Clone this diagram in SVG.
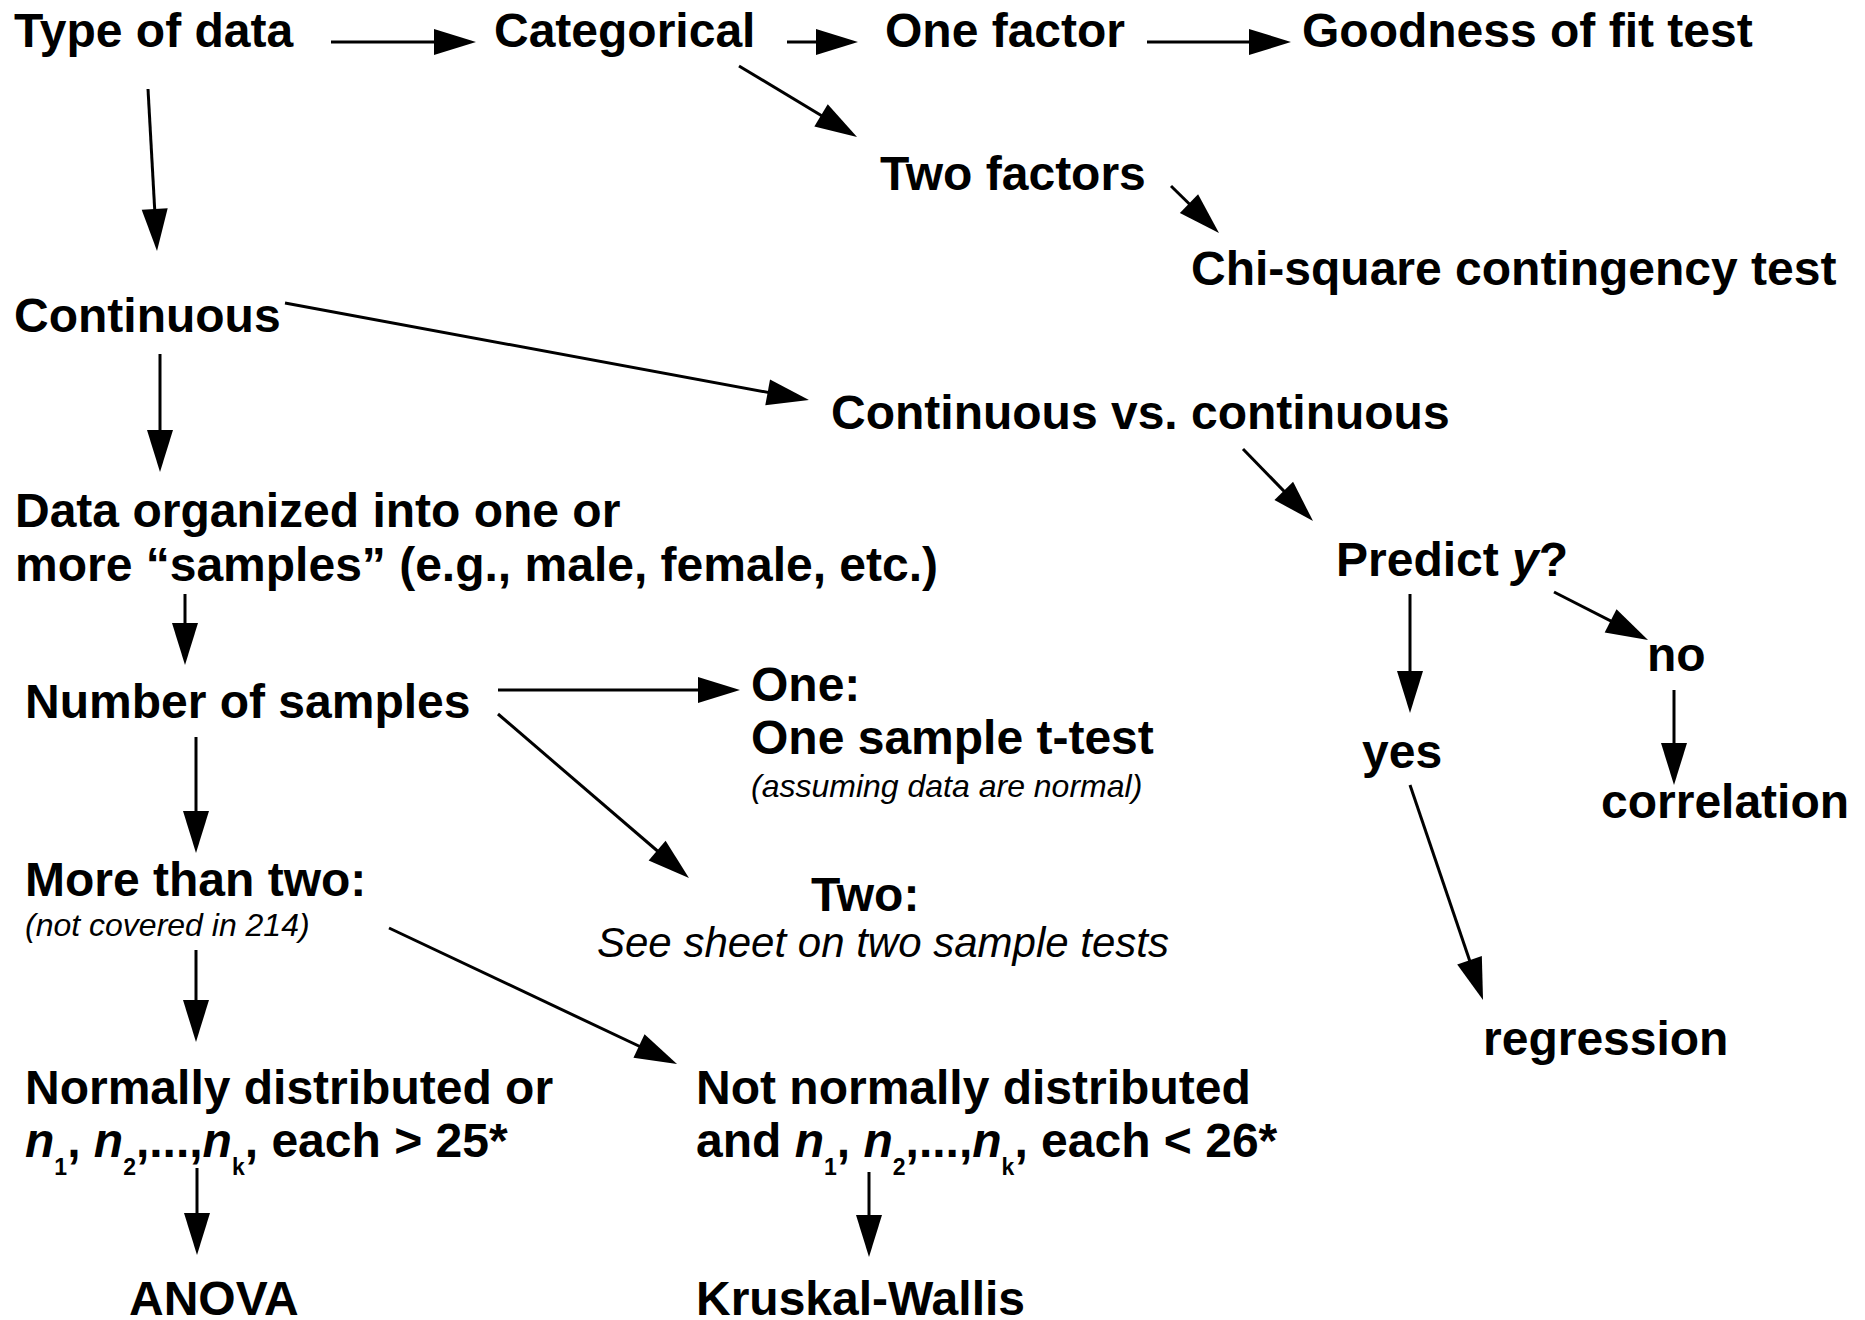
<svg xmlns="http://www.w3.org/2000/svg" width="1865" height="1320" viewBox="0 0 1865 1320">
<style>
text{font-family:"Liberation Sans",Arial,sans-serif;fill:#000}
.b{font-size:48px;font-weight:bold}
.it{font-style:italic}
.s{font-size:32px;font-style:italic}
.m{font-size:42px;font-style:italic}
.sub{font-size:23px;font-weight:bold}
.c line{stroke:#000;stroke-width:3;marker-end:url(#ah)}
</style>
<defs>
<marker id="ah" markerUnits="userSpaceOnUse" markerWidth="44" markerHeight="28" refX="22" refY="13" orient="auto" overflow="visible">
<path d="M0,0 L42,13 L0,26 Z" fill="#000"/>
</marker>
</defs>
<rect width="1865" height="1320" fill="#fff"/>
<g class="c" id="connectors">
<line x1="331" y1="42" x2="456" y2="42"/>
<line x1="787" y1="42" x2="838" y2="42"/>
<line x1="1147" y1="42" x2="1271" y2="42"/>
<line x1="739" y1="66" x2="839.9" y2="126.7"/>
<line x1="1171" y1="186" x2="1204.7" y2="219"/>
<line x1="148" y1="89" x2="155.9" y2="231"/>
<line x1="285" y1="303" x2="789.3" y2="396.4"/>
<line x1="160" y1="354" x2="160" y2="452"/>
<line x1="185" y1="594" x2="185" y2="645"/>
<line x1="498" y1="690" x2="720" y2="690"/>
<line x1="498" y1="714" x2="673.8" y2="865"/>
<line x1="196" y1="737" x2="196" y2="833"/>
<line x1="196" y1="950" x2="196" y2="1022"/>
<line x1="389" y1="928" x2="658.9" y2="1055.5"/>
<line x1="197" y1="1168" x2="197" y2="1235"/>
<line x1="869" y1="1172" x2="869" y2="1237"/>
<line x1="1243" y1="449" x2="1299.1" y2="506.7"/>
<line x1="1410" y1="594" x2="1410" y2="693"/>
<line x1="1554" y1="592" x2="1630.2" y2="630.9"/>
<line x1="1674" y1="690" x2="1674" y2="765"/>
<line x1="1410" y1="785" x2="1476.6" y2="981.1"/>
</g>
<g id="type-of-data"><text class="b" x="14" y="47">Type of data</text></g>
<g id="categorical"><text class="b" x="494" y="47">Categorical</text></g>
<g id="one-factor"><text class="b" x="885" y="47">One factor</text></g>
<g id="goodness"><text class="b" x="1302" y="47">Goodness of fit test</text></g>
<g id="two-factors"><text class="b" x="880" y="190">Two factors</text></g>
<g id="chi-square"><text class="b" x="1191" y="285">Chi-square contingency test</text></g>
<g id="continuous"><text class="b" x="14" y="332">Continuous</text></g>
<g id="cont-vs-cont"><text class="b" x="831" y="429">Continuous vs. continuous</text></g>
<g id="data-organized">
<text class="b" x="15" y="527">Data organized into one or</text>
<text class="b" x="15" y="581">more “samples” (e.g., male, female, etc.)</text>
</g>
<g id="number-of-samples"><text class="b" x="25" y="718">Number of samples</text></g>
<g id="one">
<text class="b" x="751" y="701">One:</text>
<text class="b" x="751" y="754">One sample t-test</text>
<text class="s" x="751" y="797">(assuming data are normal)</text>
</g>
<g id="two">
<text class="b" x="811" y="911">Two:</text>
<text class="m" x="597" y="957">See sheet on two sample tests</text>
</g>
<g id="more-than-two">
<text class="b" x="25" y="896">More than two:</text>
<text class="s" x="25" y="936">(not covered in 214)</text>
</g>
<g id="normally">
<text class="b" x="25" y="1104">Normally distributed or</text>
<text class="b" x="25" y="1157"><tspan class="it">n</tspan><tspan class="sub" dy="18">1</tspan><tspan dy="-18">, </tspan><tspan class="it">n</tspan><tspan class="sub" dy="18">2</tspan><tspan dy="-18">,...,</tspan><tspan class="it">n</tspan><tspan class="sub" dy="18">k</tspan><tspan dy="-18">, each &gt; 25*</tspan></text>
</g>
<g id="not-normally">
<text class="b" x="696" y="1104">Not normally distributed</text>
<text class="b" x="696" y="1157">and <tspan class="it">n</tspan><tspan class="sub" dy="18">1</tspan><tspan dy="-18">, </tspan><tspan class="it">n</tspan><tspan class="sub" dy="18">2</tspan><tspan dy="-18">,...,</tspan><tspan class="it">n</tspan><tspan class="sub" dy="18">k</tspan><tspan dy="-18">, each &lt; 26*</tspan></text>
</g>
<g id="anova"><text class="b" x="129" y="1315">ANOVA</text></g>
<g id="kruskal"><text class="b" x="696" y="1315">Kruskal-Wallis</text></g>
<g id="predict"><text class="b" x="1336" y="576">Predict <tspan class="it">y</tspan>?</text></g>
<g id="yes"><text class="b" x="1362" y="768">yes</text></g>
<g id="no"><text class="b" x="1647" y="671">no</text></g>
<g id="correlation"><text class="b" x="1601" y="818">correlation</text></g>
<g id="regression"><text class="b" x="1483" y="1055">regression</text></g>
</svg>
